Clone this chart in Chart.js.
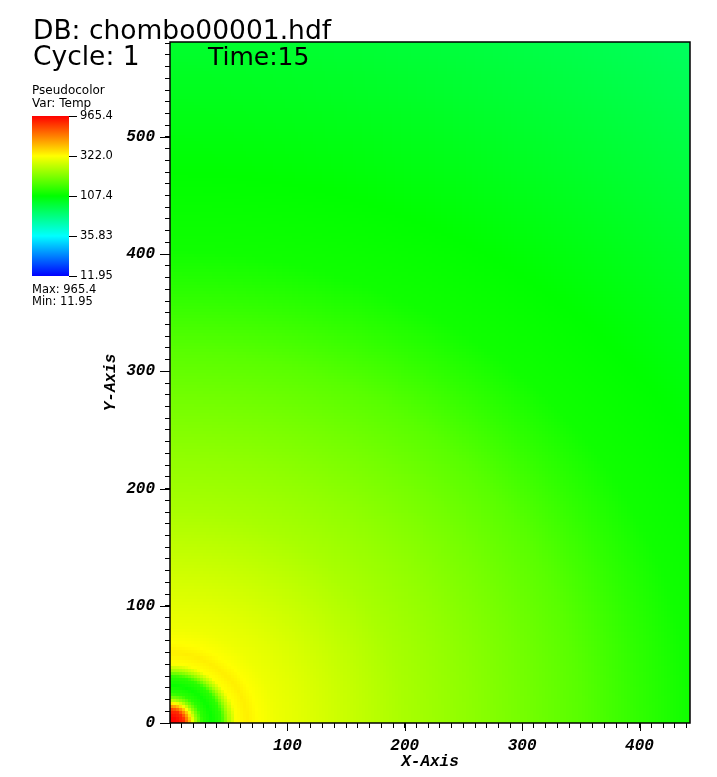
<!DOCTYPE html>
<html>
<head>
<meta charset="utf-8">
<script src="https://cdn.jsdelivr.net/npm/chart.js@4.4.1/dist/chart.umd.min.js"></script>
<style>
  html, body { margin: 0; padding: 0; background: #fff; }
</style>
</head>
<body>
<canvas id="plot" width="717" height="777"></canvas>
<script>
// Temp profile: distance from the origin -> Temp
// (distance measured along X; the field falls off a bit faster in Y, see yStretch)
var radius = [0, 6, 12, 15, 19, 23, 28, 36, 44, 50, 56, 66, 76, 90, 110, 150, 200, 250, 300, 350, 400, 443, 520, 640, 780];
var temp = [965.4, 940, 800, 560, 330, 200, 130, 112, 130, 220, 320, 345, 320, 300, 285, 255, 222, 200, 178, 157, 132, 115, 107, 88, 71];
var yStretch = 1.1;

var xExtent = [0, 443];
var yExtent = [0, 581];
var xTickLabels = [100, 200, 300, 400];
var yTickLabels = [0, 100, 200, 300, 400, 500];
var legendTicks = ['965.4', '322.0', '107.4', '35.83', '11.95'];
var tMin = 11.95, tMax = 965.4;
var cellSize = 2.6; // mesh spacing

// VisIt "hot" colour table, log scaled
var hotStops = [[0, 0, 255], [0, 255, 255], [0, 255, 0], [255, 255, 0], [255, 0, 0]];
function hotColor(v) {
  var t = (Math.log(v) - Math.log(tMin)) / (Math.log(tMax) - Math.log(tMin));
  t = Math.max(0, Math.min(1, t));
  var s = t * 4, i = Math.min(3, Math.floor(s)), f = s - i;
  var a = hotStops[i], b = hotStops[i + 1];
  return 'rgb(' + Math.round(a[0] + (b[0] - a[0]) * f) + ',' +
    Math.round(a[1] + (b[1] - a[1]) * f) + ',' +
    Math.round(a[2] + (b[2] - a[2]) * f) + ')';
}

function tempAt(r) {
  if (r >= radius[radius.length - 1]) return temp[temp.length - 1];
  for (var i = 0; i < radius.length - 1; i++) {
    if (r <= radius[i + 1]) {
      var f = (r - radius[i]) / (radius[i + 1] - radius[i]);
      return Math.exp(Math.log(temp[i]) + (Math.log(temp[i + 1]) - Math.log(temp[i])) * f);
    }
  }
}

var fieldPlugin = {
  id: 'field',
  beforeDatasetsDraw: function(chart) {
    var ctx = chart.ctx, xs = chart.scales.x, ys = chart.scales.y, area = chart.chartArea;
    ctx.save();
    ctx.beginPath();
    ctx.rect(area.left, area.top, area.right - area.left, area.bottom - area.top);
    ctx.clip();
    for (var x0 = xExtent[0]; x0 < xExtent[1]; x0 += cellSize) {
      for (var y0 = yExtent[0]; y0 < yExtent[1]; y0 += cellSize) {
        var cx = x0 + cellSize / 2, cy = (y0 + cellSize / 2) * yStretch;
        ctx.fillStyle = hotColor(tempAt(Math.sqrt(cx * cx + cy * cy)));
        var l = Math.floor(xs.getPixelForValue(x0)), r = Math.ceil(xs.getPixelForValue(x0 + cellSize));
        var t = Math.floor(ys.getPixelForValue(y0 + cellSize)), b = Math.ceil(ys.getPixelForValue(y0));
        ctx.fillRect(l, t, r - l, b - t);
      }
    }
    ctx.restore();
  },
  afterDraw: function(chart) {
    var ctx = chart.ctx, xs = chart.scales.x, ys = chart.scales.y, area = chart.chartArea;
    ctx.save();
    // frame
    ctx.strokeStyle = '#000';
    ctx.lineWidth = 1.5;
    ctx.strokeRect(area.left, area.top, area.right - area.left, area.bottom - area.top);
    // longer major ticks
    ctx.lineWidth = 1;
    ctx.beginPath();
    yTickLabels.forEach(function(v) {
      var py = Math.round(ys.getPixelForValue(v)) + 0.5;
      ctx.moveTo(area.left - 10, py); ctx.lineTo(area.left, py);
    });
    xTickLabels.forEach(function(v) {
      var px = Math.round(xs.getPixelForValue(v)) + 0.5;
      ctx.moveTo(px, area.bottom); ctx.lineTo(px, area.bottom + 8);
    });
    ctx.stroke();

    // annotations
    ctx.fillStyle = '#000';
    ctx.textBaseline = 'alphabetic';
    ctx.textAlign = 'left';
    ctx.font = '26.5px "DejaVu Sans"';
    ctx.fillText('DB: chombo00001.hdf', 33, 39);
    ctx.fillText('Cycle: 1', 33, 65);
    ctx.font = '25px "DejaVu Sans"';
    ctx.fillText('Time:15', 208, 65);

    ctx.font = '12px "DejaVu Sans"';
    ctx.fillText('Pseudocolor', 32, 94);
    ctx.fillText('Var: Temp', 32, 107);

    // colour bar
    var barL = 32, barR = 69, barT = 116, barB = 276;
    var grad = ctx.createLinearGradient(0, barB, 0, barT);
    hotStops.forEach(function(c, i) {
      grad.addColorStop(i / 4, 'rgb(' + c.join(',') + ')');
    });
    ctx.fillStyle = grad;
    ctx.fillRect(barL, barT, barR - barL, barB - barT);

    ctx.fillStyle = '#000';
    ctx.font = '11.5px "DejaVu Sans"';
    ctx.textBaseline = 'middle';
    ctx.beginPath();
    legendTicks.forEach(function(lbl, i) {
      var py = barT + i * (barB - barT) / (legendTicks.length - 1);
      ctx.moveTo(barR, Math.round(py) + 0.5); ctx.lineTo(barR + 8, Math.round(py) + 0.5);
      ctx.fillText(lbl, 80, py);
    });
    ctx.stroke();
    ctx.textBaseline = 'alphabetic';
    ctx.fillText('Max: ' + tMax, 32, 293);
    ctx.fillText('Min: ' + tMin, 32, 305);
    ctx.restore();
  }
};

var axisFont = { family: '"Liberation Mono"', size: 16, weight: 'bold', style: 'italic', lineHeight: 1 };

new Chart(document.getElementById('plot').getContext('2d'), {
  type: 'scatter',
  data: { datasets: [{ data: [], pointRadius: 0 }] },
  options: {
    responsive: false,
    animation: false,
    layout: { padding: { left: 103, right: 27, top: 42, bottom: 7 } },
    plugins: { legend: { display: false }, tooltip: { enabled: false } },
    scales: {
      x: {
        type: 'linear', min: xExtent[0], max: xExtent[1],
        border: { display: false },
        grid: { display: true, drawOnChartArea: false, tickLength: 5, tickColor: '#000', tickWidth: 1 },
        ticks: {
          stepSize: 10, autoSkip: false, maxRotation: 0, includeBounds: false, padding: 10,
          color: '#000', font: axisFont,
          callback: function(v) { return xTickLabels.indexOf(v) >= 0 ? String(v) : ''; }
        },
        title: { display: true, text: 'X-Axis', color: '#000', font: axisFont, padding: { top: 0, bottom: 0 } },
        afterFit: function(scale) { scale.height = 47; }
      },
      y: {
        type: 'linear', min: yExtent[0], max: yExtent[1],
        border: { display: false },
        grid: { display: true, drawOnChartArea: false, tickLength: 5, tickColor: '#000', tickWidth: 1 },
        ticks: {
          stepSize: 10, autoSkip: false, includeBounds: false, padding: 10,
          color: '#000', font: axisFont,
          callback: function(v) { return yTickLabels.indexOf(v) >= 0 ? String(v) : ''; }
        },
        title: { display: true, text: 'Y-Axis', color: '#000', font: axisFont, padding: { top: 0, bottom: 0 } },
        afterFit: function(scale) { scale.width = 67; }
      }
    }
  },
  plugins: [fieldPlugin]
});
</script>
</body>
</html>
